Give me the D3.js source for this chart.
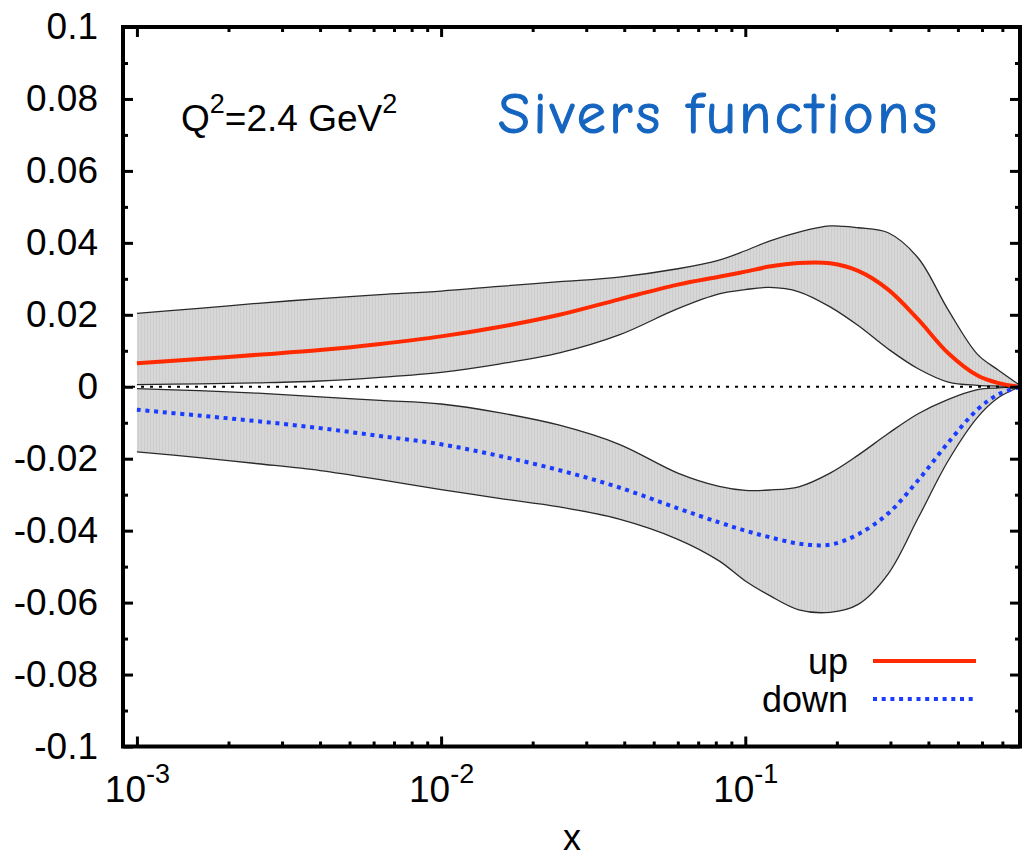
<!DOCTYPE html>
<html>
<head>
<meta charset="utf-8">
<script src="https://cdn.jsdelivr.net/npm/d3@7"></script>
<style>
  html, body { margin: 0; padding: 0; background: #fff; }
  svg { display: block; }
  text { font-family: "Liberation Sans", Arial, Helvetica, sans-serif; fill: #000; }
</style>
</head>
<body>
<svg id="chart" width="1022" height="858"></svg>
<script>
// Sivers functions at Q^2 = 2.4 GeV^2: central curves and error bands
const xGrid    = [0.001, 0.0016, 0.0025, 0.004, 0.0063, 0.01, 0.0155, 0.0245, 0.0385, 0.06, 0.082, 0.1, 0.12, 0.15, 0.19, 0.235, 0.295, 0.37, 0.465, 0.58, 0.68, 0.8];
const upMid    = [0.0065, 0.0077, 0.0089, 0.0102, 0.0119, 0.0140, 0.0166, 0.0200, 0.0243, 0.0284, 0.0306, 0.0320, 0.0334, 0.0344, 0.0343, 0.0322, 0.0270, 0.0187, 0.0093, 0.0031, 0.0010, 0.0000];
const upHi     = [0.0204, 0.0218, 0.0232, 0.0245, 0.0256, 0.0266, 0.0279, 0.0292, 0.0305, 0.0328, 0.0352, 0.0378, 0.0405, 0.0430, 0.0447, 0.0442, 0.0428, 0.0358, 0.0213, 0.0090, 0.0046, 0.0004];
const upLo     = [0.0006, 0.0008, 0.0011, 0.0016, 0.0026, 0.0040, 0.0063, 0.0094, 0.0144, 0.0217, 0.0258, 0.0270, 0.0276, 0.0264, 0.0222, 0.0170, 0.0105, 0.0050, 0.0013, 0.0004, 0.0002, 0.0000];
const downMid  = [-0.0064, -0.0080, -0.0096, -0.0115, -0.0137, -0.0160, -0.0192, -0.0232, -0.0280, -0.0338, -0.0377, -0.0400, -0.0418, -0.0436, -0.0439, -0.0410, -0.0352, -0.0260, -0.0155, -0.0063, -0.0021, 0.0000];
const downHi   = [-0.0005, -0.0011, -0.0018, -0.0028, -0.0038, -0.0048, -0.0072, -0.0107, -0.0160, -0.0240, -0.0277, -0.0288, -0.0287, -0.0278, -0.0240, -0.0190, -0.0130, -0.0075, -0.0035, -0.0008, -0.0003, 0.0000];
const downLo   = [-0.0181, -0.0197, -0.0214, -0.0233, -0.0258, -0.0286, -0.0310, -0.0334, -0.0368, -0.0424, -0.0484, -0.0540, -0.0580, -0.0620, -0.0627, -0.0605, -0.0520, -0.0365, -0.0205, -0.0085, -0.0030, 0.0000];

const xMajorTicks = [1e-3, 1e-2, 1e-1];
const xTickExponents = ["-3", "-2", "-1"];
const yMajorTicks = [-0.1, -0.08, -0.06, -0.04, -0.02, 0, 0.02, 0.04, 0.06, 0.08, 0.1];
const yMinorTicks = [-0.09, -0.07, -0.05, -0.03, -0.01, 0.01, 0.03, 0.05, 0.07, 0.09];
const legendLabels = ["up", "down"];
const annotation = { q: "Q", sq: "2", mid: "=2.4 GeV", sq2: "2" };
const titleText = "Sivers functions";
const xLabel = "x";

const svg = d3.select("#chart");
const L = 123, R = 1020, T = 27, B = 746.5;

const x = d3.scaleLog().domain([0.0009, 0.8]).range([L, R]);
const y = d3.scaleLinear().domain([-0.1, 0.1]).range([B, T]);

const xMinorTicks = [];
[1e-3, 1e-2, 1e-1].forEach(dec => {
  for (let k = 2; k <= 9; k++) {
    const v = k * dec;
    if (v <= 0.8 + 1e-9) xMinorTicks.push(v);
  }
});

// striped grey fill, like a band rendered from many thin verticals
const defs = svg.append("defs");
const pat = defs.append("pattern").attr("id", "bandFill")
  .attr("patternUnits", "userSpaceOnUse").attr("width", 3).attr("height", 10);
pat.append("rect").attr("width", 3).attr("height", 10).attr("fill", "#d7d7d7");
pat.append("rect").attr("width", 1).attr("height", 10).attr("fill", "#cdcdcd");

const rows = xGrid.map((xv, i) => ({ x: xv, upMid: upMid[i], upHi: upHi[i], upLo: upLo[i], dnMid: downMid[i], dnHi: downHi[i], dnLo: downLo[i] }));
const curve = d3.curveCatmullRom.alpha(0.5);

const area = (hi, lo) => d3.area().x(d => x(d.x)).y0(d => y(d[lo])).y1(d => y(d[hi])).curve(curve);
const line = key => d3.line().x(d => x(d.x)).y(d => y(d[key])).curve(curve);

const plot = svg.append("g");
plot.append("path").datum(rows).attr("d", area("upHi", "upLo")).attr("fill", "url(#bandFill)");
plot.append("path").datum(rows).attr("d", area("dnHi", "dnLo")).attr("fill", "url(#bandFill)");

["upHi", "upLo", "dnHi", "dnLo"].forEach(k => {
  plot.append("path").datum(rows).attr("d", line(k))
    .attr("fill", "none").attr("stroke", "#2a2a2a").attr("stroke-width", 1.3);
});

// zero reference line
plot.append("line").attr("x1", L).attr("x2", R).attr("y1", y(0)).attr("y2", y(0))
  .attr("stroke", "#000").attr("stroke-width", 1.8).attr("stroke-dasharray", "3,6");

const upColor = "#ff2a00", downColor = "#1a3cff";
plot.append("path").datum(rows).attr("d", line("upMid"))
  .attr("fill", "none").attr("stroke", upColor).attr("stroke-width", 4);
plot.append("path").datum(rows).attr("d", line("dnMid"))
  .attr("fill", "none").attr("stroke", downColor).attr("stroke-width", 4)
  .attr("stroke-dasharray", "4,4.7");

// axes: ticks point inward on all four sides
const fmtY = d => String(+d.toFixed(2));
const yLeft = svg.append("g").attr("transform", `translate(${L},0)`)
  .call(d3.axisLeft(y).tickValues(yMajorTicks).tickSize(-10).tickPadding(25).tickFormat(fmtY));
const yLeftMinor = svg.append("g").attr("transform", `translate(${L},0)`)
  .call(d3.axisLeft(y).tickValues(yMinorTicks).tickSize(-5).tickFormat(""));
const yRight = svg.append("g").attr("transform", `translate(${R},0)`)
  .call(d3.axisRight(y).tickValues(yMajorTicks).tickSize(-10).tickFormat(""));
const yRightMinor = svg.append("g").attr("transform", `translate(${R},0)`)
  .call(d3.axisRight(y).tickValues(yMinorTicks).tickSize(-5).tickFormat(""));

const xBottom = svg.append("g").attr("transform", `translate(0,${B})`)
  .call(d3.axisBottom(x).tickValues(xMajorTicks).tickSize(-10).tickFormat(""));
const xBottomMinor = svg.append("g").attr("transform", `translate(0,${B})`)
  .call(d3.axisBottom(x).tickValues(xMinorTicks).tickSize(-5).tickFormat(""));
const xTop = svg.append("g").attr("transform", `translate(0,${T})`)
  .call(d3.axisTop(x).tickValues(xMajorTicks).tickSize(-10).tickFormat(""));
const xTopMinor = svg.append("g").attr("transform", `translate(0,${T})`)
  .call(d3.axisTop(x).tickValues(xMinorTicks).tickSize(-5).tickFormat(""));

[yLeft, yLeftMinor, yRight, yRightMinor, xBottom, xBottomMinor, xTop, xTopMinor].forEach(g => {
  g.select(".domain").remove();
  g.selectAll(".tick line").attr("stroke", "#000").attr("stroke-width", 3);
});
yLeft.selectAll(".tick text").attr("font-size", 37)
  .attr("font-family", "'Liberation Sans', Arial, Helvetica, sans-serif").attr("fill", "#000");

// power-of-ten labels on the x axis
xBottom.selectAll(".tick").each(function(d, i) {
  const t = d3.select(this).append("text")
    .attr("y", 55.5).attr("text-anchor", "middle").attr("font-size", 37).attr("fill", "#000")
    .attr("font-family", "'Liberation Sans', Arial, Helvetica, sans-serif");
  t.append("tspan").text("10");
  t.append("tspan").attr("font-size", 27).attr("dy", -19).text(xTickExponents[i]);
});

// frame
svg.append("rect").attr("x", L).attr("y", T).attr("width", R - L).attr("height", B - T)
  .attr("fill", "none").attr("stroke", "#000").attr("stroke-width", 4);

// axis title
svg.append("text").attr("x", 572).attr("y", 850).attr("text-anchor", "middle")
  .attr("font-size", 36).text(xLabel);

// Q^2 annotation
const q = svg.append("text").attr("x", 181).attr("y", 131).attr("font-size", 37);
q.append("tspan").text(annotation.q);
q.append("tspan").attr("font-size", 27).attr("dy", -18).text(annotation.sq);
q.append("tspan").attr("dy", 18).text(annotation.mid);
q.append("tspan").attr("font-size", 27).attr("dy", -18).text(annotation.sq2);

// title
svg.append("text").attr("x", 498).attr("y", 133).attr("font-size", 58)
  .attr("textLength", 439).attr("lengthAdjust", "spacing")
  .style("font-family", "'Comic Sans MS', 'Comic Neue', Lato, 'Open Sans', sans-serif")
  .style("fill", "#1565c0").style("stroke", "#1565c0").style("stroke-width", 1.2)
  .text(titleText);

// legend
const legendY = [661, 699];
const legend = svg.append("g");
legendLabels.forEach((lab, i) => {
  legend.append("text").attr("x", 848).attr("y", legendY[i] + 13).attr("text-anchor", "end")
    .attr("font-size", 36).text(lab);
  legend.append("line").attr("x1", 873).attr("x2", 976).attr("y1", legendY[i]).attr("y2", legendY[i])
    .attr("stroke", i === 0 ? upColor : downColor).attr("stroke-width", 4)
    .attr("stroke-dasharray", i === 0 ? null : "4,4.7");
});
</script>
</body>
</html>
